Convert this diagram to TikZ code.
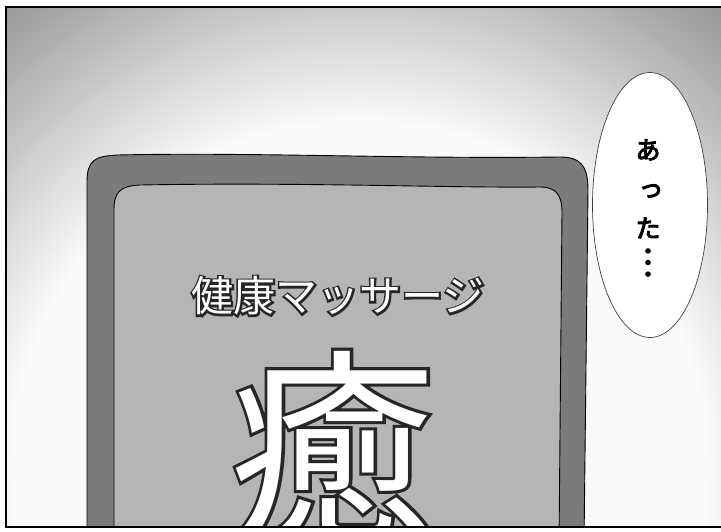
\documentclass[tikz,border=0pt]{standalone}
\usepackage{fontspec}
\newfontfamily\jpfont{Noto Sans CJK JP}
\newfontfamily\jpmid[FakeBold=4]{Noto Sans CJK JP}
\newfontfamily\jpoutline[FakeBold=9]{Noto Sans CJK JP}
\newfontfamily\jpoutlinebig[FakeBold=3]{Noto Sans CJK JP}
\definecolor{frameg}{HTML}{7B7B7B}
\definecolor{coverg}{HTML}{B5B5B5}
\tikzset{
  bookframe/.style={fill=frameg, draw=black, line width=0.9pt},
  bookcover/.style={fill=coverg, draw=black, line width=0.9pt},
  bubble/.style={fill=white, draw=black!75, line width=0.7pt},
  bubbletext/.style={font=\jpmid\fontsize{25}{25}\selectfont, text=black, inner sep=0pt},
  panelline/.style={line width=2pt, draw=black},
  titlefont/.style={font=#1\fontsize{42}{42}\selectfont, inner sep=0pt},
  bigfont/.style={font=#1\fontsize{205}{205}\selectfont, inner sep=0pt, anchor=base}
}
\begin{document}
\begin{tikzpicture}[x=1pt,y=-1pt]
\useasboundingbox (0,0) rectangle (721,531);
\fill[white] (0,0) rectangle (721,531);
\begin{scope}
  \clip (6,7) rectangle (721,527);
  \fill[black!40] (6,7) rectangle (721,527);
  \foreach \i in {0,...,50} {
    \pgfmathsetmacro\rr{600-5*\i}
    \pgfmathsetmacro\pp{max(2,min(40,2+0.162*(\rr-350)))}
    \fill[black!\pp] (360,470) circle (\rr);
  }
  % book
  \path[bookframe] (87,545) -- (87,182) .. controls (87,160) and (95,156) .. (118,155)
     .. controls (250,152) and (400,159) .. (560,157)
     .. controls (580,157) and (588,165) .. (588,190) -- (584,545) -- cycle;
  \path[bookcover] (114,545) -- (114,210) .. controls (114,192) and (120,186) .. (140,185)
     .. controls (300,182) and (450,188) .. (540,187)
     .. controls (556,187) and (562,195) .. (562,212) -- (559,545) -- cycle;
  \node[titlefont=\jpoutline, text=black!85] (titleedge) at (338,296) {健康マッサージ};
  \node[titlefont=\jpfont, text=white] (title) at (338,296) {健康マッサージ};
  \node[bigfont=\jpoutlinebig, text=black!85] (yuedge) at (332,523) {癒};
  \node[bigfont=\jpfont, text=white] (yu) at (332,523) {癒};
\end{scope}
% speech bubble
\path[bubble] (650,205) ellipse [x radius=57.5, y radius=132.5];
\node[bubbletext] (c1) at (648,150) {あ};
\node[bubbletext] (c2) at (651,191) {っ};
\node[bubbletext] (c3) at (648,228) {た};
\node[bubbletext, rotate=-90, font=\jpmid\fontsize{31}{31}\selectfont] (c4) at (648,262) {…};
% panel border
\draw[panelline] (721,7) -- (6,7) -- (6,527) -- (721,527);
\end{tikzpicture}
\end{document}
